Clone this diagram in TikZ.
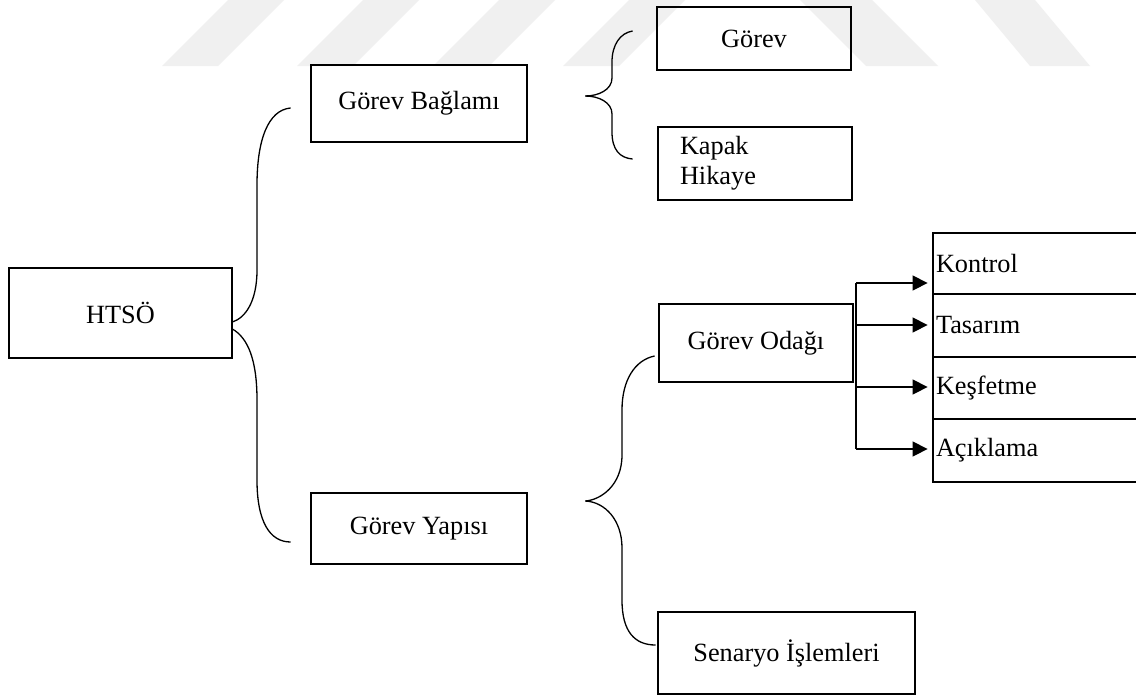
\documentclass[tikz,border=0pt]{standalone}
\usepackage{fontspec}
\setmainfont{Liberation Serif}
\usetikzlibrary{arrows.meta,calc}

\begin{document}
\begin{tikzpicture}[x=1pt,y=-1pt,
  every node/.style={font=\fontsize{26.3}{30}\selectfont},
  box/.style={draw, line width=2.8pt, rectangle, inner sep=0pt},
  brace/.style={line width=1.3pt},
  conn/.style={line width=1.3pt},
  arr/.style={conn, -{Triangle[length=15pt,width=15pt]}, shorten >=4pt},
  band/.style={fill=gray!12, draw=none}
]
\useasboundingbox (0,0) rectangle (1136,697);
\fill[white] (0,0) rectangle (1136,697);
\clip (0,0) rectangle (1136,697);

% faint background stripes
\foreach \xb in {162,297,433,563}
  \path[band] (\xb,66) -- (\xb+56,66) -- (\xb+122,0) -- (\xb+66,0) -- cycle;
\path[band] (800,0) -- (872,0) -- (938,66) -- (866,66) -- cycle;
\path[band] (975,0) -- (1035,0) -- (1090,66) -- (1030,66) -- cycle;

% boxes
\node[box, minimum width=223pt, minimum height=90pt] (htso) at (120.5,313) {HTSÖ};
\node[box, minimum width=216pt, minimum height=77pt] (gb) at (419,103.5) {Görev Bağlamı};
\node[box, minimum width=194pt, minimum height=63pt] (gorev) at (754,38.5) {Görev};
\node[box, minimum width=194pt, minimum height=73pt, text width=150pt, align=left] (kapak) at (755,163.5) {Kapak\\Hikaye};
\node[box, minimum width=216pt, minimum height=71pt] (gy) at (419,528.5) {Görev Yapısı};
\node[box, minimum width=194pt, minimum height=78pt] (god) at (756,343) {Görev Odağı};
\node[box, minimum width=257pt, minimum height=82pt] (sen) at (786.5,653) {Senaryo İşlemleri};

\node[box, minimum width=217pt, minimum height=61pt, text width=211pt, align=left] (kon) at (1041.5,263.5) {Kontrol};
\node[box, minimum width=217pt, minimum height=63pt, text width=211pt, align=left] (tas) at (1041.5,325.5) {Tasarım};
\node[box, minimum width=217pt, minimum height=62pt, text width=211pt, align=left] (kes) at (1041.5,388) {Keşfetme};
\node[box, minimum width=217pt, minimum height=63pt, text width=211pt, align=left] (aci) at (1041.5,450.5) {Açıklama};

% brace: HTSÖ -> Görev Bağlamı / Görev Yapısı
\coordinate (aTop) at ($(gb.west)+(-19,4.5)$);
\coordinate (aTipU) at ($(htso.east)+(-1,9)$);
\coordinate (aTipL) at ($(htso.east)+(-1,16)$);
\coordinate (aBot) at ($(gy.west)+(-19,13.5)$);
\draw[brace] (aTop) .. controls (268,110) and (257,140) .. (257,185)
  -- (257,270) .. controls (257,302) and (245,318) .. (aTipU);
\draw[brace] (aTipL) .. controls (248,338) and (257,360) .. (257,400)
  -- (257,480) .. controls (257,522) and (270,542) .. (aBot);

% brace: Görev Bağlamı -> Görev / Kapak Hikaye
\coordinate (bTip) at ($(gb.east)+(57,-7.5)$);
\coordinate (bTop) at ($(gorev.west)+(-23,-7.5)$);
\coordinate (bBot) at ($(kapak.west)+(-24,-4.5)$);
\draw[brace] (bTop) .. controls (620,33) and (612,45) .. (612,62)
  -- (612,78) .. controls (612,90) and (598,96) .. (bTip);
\draw[brace] (bTip) .. controls (598,96) and (612,102) .. (612,114)
  -- (612,132) .. controls (612,150) and (620,158) .. (bBot);

% brace: Görev Yapısı -> Görev Odağı / Senaryo İşlemleri
\coordinate (cTip) at ($(gy.east)+(57,-27.5)$);
\coordinate (cTop) at ($(god.west)+(-3,13)$);
\coordinate (cBot) at ($(sen.west)+(-1,-8)$);
\draw[brace] (cTop) .. controls (635,360) and (622,380) .. (622,410)
  -- (622,455) .. controls (622,486) and (600,500) .. (cTip);
\draw[brace] (cTip) .. controls (605,502) and (622,520) .. (622,548)
  -- (622,600) .. controls (622,632) and (635,645) .. (cBot);

% Görev Odağı -> focus types
\coordinate (t1) at ($(god.east)+(1.7,-60)$);
\coordinate (t2) at ($(god.east)+(1.7,-18)$);
\coordinate (t3) at ($(god.east)+(1.7,44)$);
\coordinate (t4) at ($(god.east)+(1.7,106)$);
\draw[conn] (t1) -- (t4);
\draw[arr] (t1) -- (t1 -| kon.west);
\draw[arr] (t2) -- (t2 -| tas.west);
\draw[arr] (t3) -- (t3 -| kes.west);
\draw[arr] (t4) -- (t4 -| aci.west);
\end{tikzpicture}
\end{document}
